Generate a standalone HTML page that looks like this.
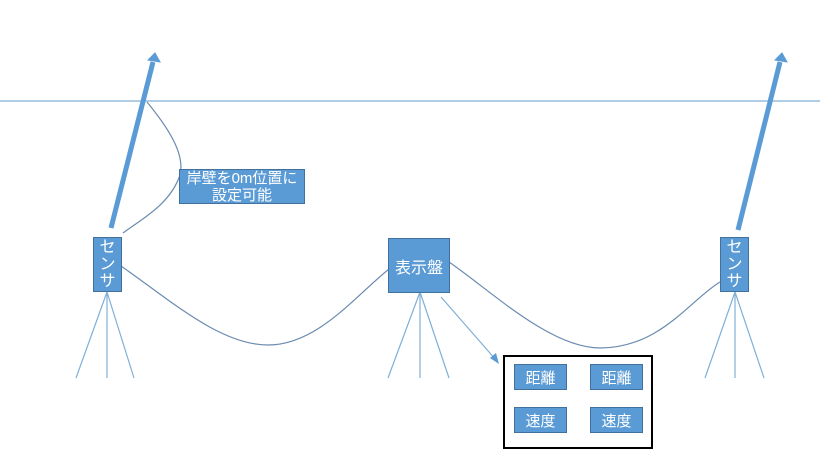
<!DOCTYPE html>
<html><head><meta charset="utf-8"><style>
body{margin:0;width:820px;height:460px;background:#fff;overflow:hidden;position:relative;font-family:"Liberation Sans","Noto Sans CJK JP",sans-serif}
.b{position:absolute;background:#5b9bd5;border:1px solid #41719c;color:#fff;box-sizing:border-box;display:flex;align-items:center;justify-content:center;text-align:center}
</style></head><body>
<svg width="820" height="460" style="position:absolute;left:0;top:0">
<line x1="0" y1="101" x2="820" y2="101" stroke="#7fb0d8" stroke-width="1.2"/>
<g stroke="#5b9bd5" fill="#5b9bd5">
<line x1="111" y1="228" x2="153" y2="62" stroke-width="5"/>
<polygon points="148,60 160,62 155,53" />
<line x1="738" y1="230" x2="780" y2="62" stroke-width="5"/>
<polygon points="775,60 787,62 782,53"/>
</g>
<g fill="none" stroke="#6a8bb0" stroke-width="1.2">
<path d="M147,102 C170,130 185,155 180,175 C170,205 140,220 123,233"/>
<path d="M121,266 C170,300 220,345 268,345 C320,345 360,290 393,266"/>
<path d="M449,262 C490,290 550,348 600,348 C660,348 690,300 720,282"/>
</g>
<g stroke="#7fb0d8" stroke-width="1.2">
<line x1="107" y1="292" x2="76" y2="378"/><line x1="107" y1="292" x2="107" y2="378"/><line x1="107" y1="292" x2="134" y2="378"/>
<line x1="420" y1="292" x2="388" y2="378"/><line x1="420" y1="292" x2="420" y2="378"/><line x1="420" y1="292" x2="449" y2="378"/>
<line x1="735" y1="292" x2="705" y2="378"/><line x1="735" y1="292" x2="735" y2="378"/><line x1="735" y1="292" x2="764" y2="378"/>
<line x1="441" y1="297" x2="496" y2="360"/>
</g>
<polygon points="499,364 490,358 496,353" fill="#5b9bd5"/>
<rect x="504" y="356" width="148" height="92" fill="none" stroke="#000" stroke-width="2"/>
</svg>
<div class="b" style="left:93px;top:237px;width:29px;height:55px;font-size:16px;line-height:17px">セ<br>ン<br>サ</div>
<div class="b" style="left:720px;top:237px;width:29px;height:55px;font-size:16px;line-height:17px">セ<br>ン<br>サ</div>
<div class="b" style="left:179px;top:169px;width:126px;height:35px;font-size:15px;line-height:17px">岸壁を0m位置に<br>設定可能</div>
<div class="b" style="left:388px;top:238px;width:62px;height:55px;font-size:16px">表示盤</div>
<div class="b" style="left:514px;top:364px;width:53px;height:26px;font-size:15px">距離</div>
<div class="b" style="left:590px;top:364px;width:53px;height:26px;font-size:15px">距離</div>
<div class="b" style="left:514px;top:407px;width:53px;height:26px;font-size:15px">速度</div>
<div class="b" style="left:590px;top:407px;width:53px;height:26px;font-size:15px">速度</div>
</body></html>
